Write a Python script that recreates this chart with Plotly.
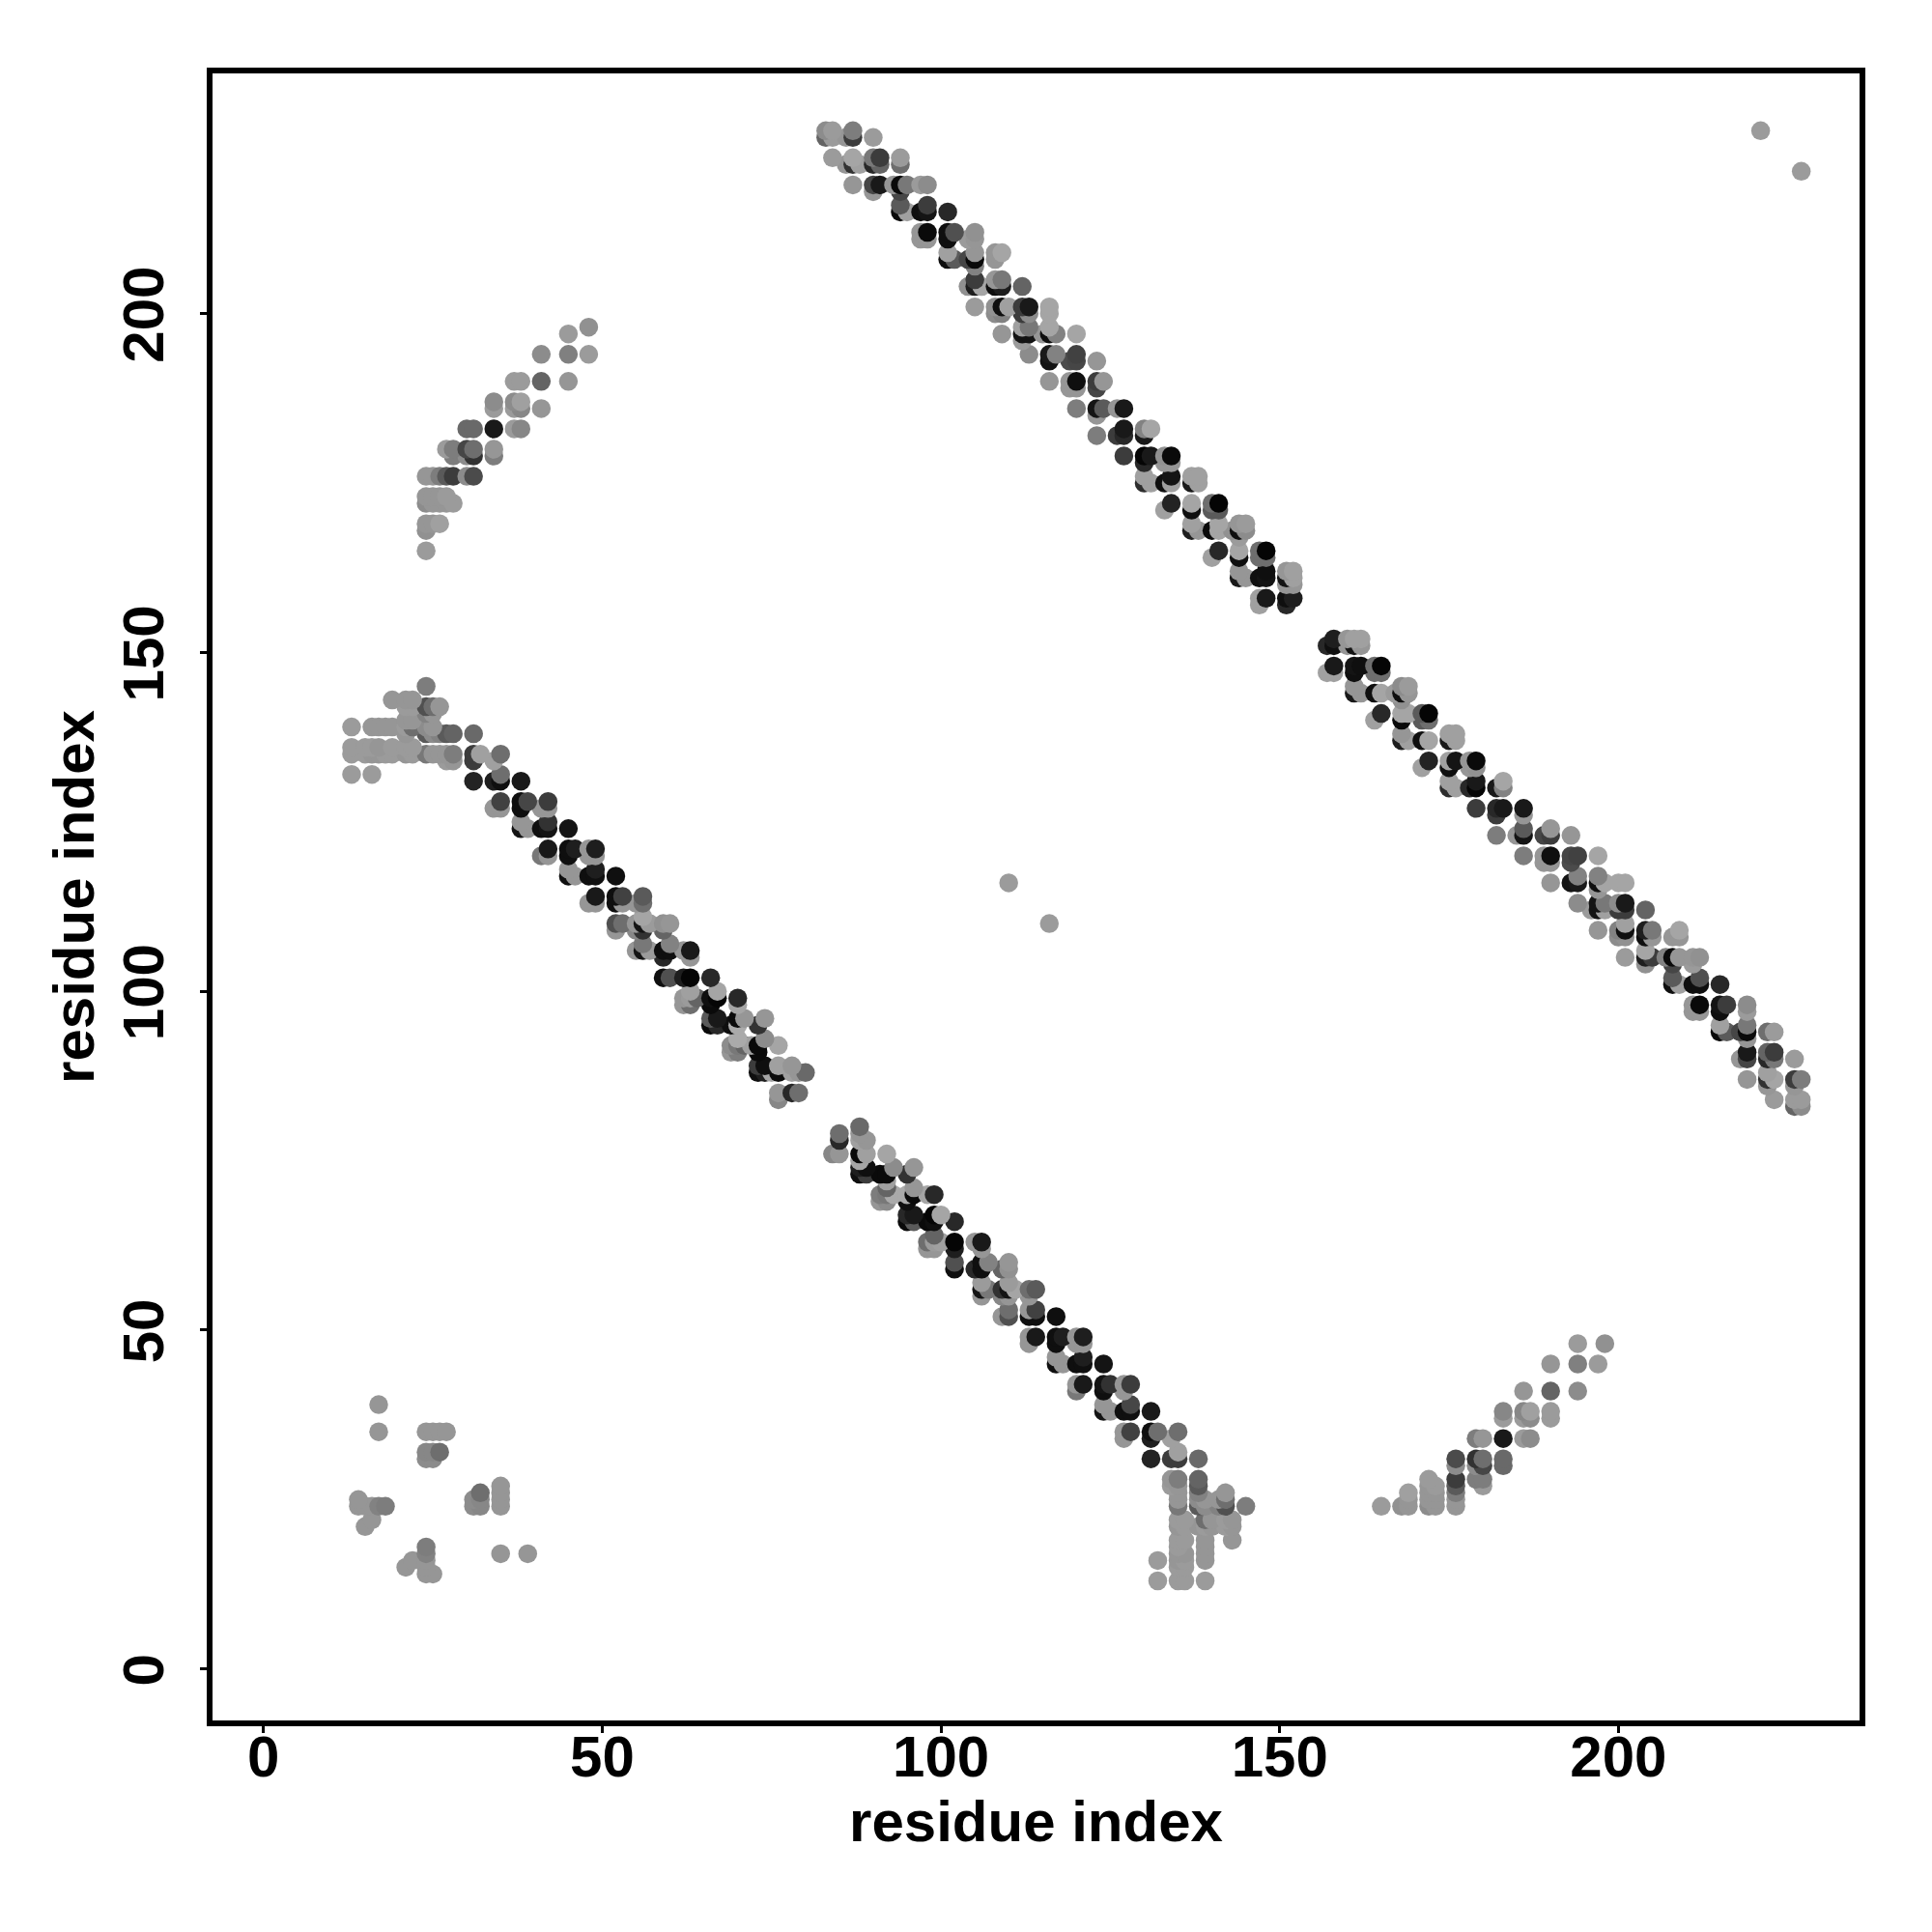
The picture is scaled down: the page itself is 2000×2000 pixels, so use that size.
import numpy as np
import plotly.graph_objects as go

# Each contact is (residue i, residue j, gray level); the map is symmetric, so
# every contact appears at both (i, j) and (j, i).
isolated = [(110,116,155),(221,227,155)]

small_cluster = [
 (17,39,150),(17,35,150),(24,35,150),(25,35,150),(26,35,150),(27,35,150),
 (24,32,135),(25,32,135),(26,32,110),(24,31,140),(25,31,140),
 (14,25,150),(14,24,150),(15,24,150),(16,24,150),(17,24,130),(18,24,125),(16,22,150),(15,21,150),
]

upper_arc = [
 (48,198,145),(45,197,155),(41,194,140),(45,194,128),(48,194,155),
 (37,190,155),(38,190,155),(41,190,100),(45,190,150),
 (34,187,140),(37,187,140),(38,187,160),(34,186,155),(37,186,155),(38,186,135),(41,186,150),
 (30,183,105),(31,183,105),(34,183,25),(37,183,155),(38,183,135),
 (27,180,155),(28,180,125),(30,180,70),(31,180,110),(34,180,150),
 (28,179,125),(30,179,140),(31,179,50),(34,179,125),
 (24,176,150),(25,176,150),(26,176,125),(27,176,90),(28,176,60),(30,176,140),(31,176,75),
 (24,173,150),(25,173,150),(26,173,150),(27,173,155),
 (24,172,140),(25,172,150),(26,172,150),(27,172,150),(28,172,155),
 (24,169,150),(25,169,150),(26,169,160),(24,168,145),(24,165,155),
]

left_group = [
 (24,145,125),(19,143,150),(21,143,150),(22,143,150),
 (21,142,155),(22,142,155),(24,142,80),(25,142,110),(26,142,150),
 (24,141,130),(25,141,150),(21,140,150),(22,140,150),
 (13,139,155),(16,139,150),(17,139,150),(18,139,150),(19,139,150),(21,139,155),(22,139,110),(24,139,140),(25,139,150),
 (21,138,150),(24,138,90),(25,138,140),(26,138,130),(27,138,90),(28,138,100),(31,138,105),
 (13,136,155),(15,136,155),(16,136,155),(17,136,150),(19,136,155),(21,136,155),(22,136,155),
 (13,135,155),(15,135,155),(16,135,150),(17,135,150),(18,135,155),(19,135,155),(21,135,150),(22,135,155),
 (24,135,120),(25,135,150),(26,135,150),(27,135,150),(28,135,125),
 (27,134,155),(28,134,150),
 (13,132,155),(16,132,155),
]

band_one = [
 (31,135,60),(32,135,160),(35,135,110),(31,134,60),(34,134,160),(35,132,110),
 (31,131,35),(34,131,30),(35,131,15),(38,131,25),
 (35,128,65),(38,128,15),(39,128,70),(42,128,60),
 (34,127,150),(35,127,150),(38,127,15),(41,127,150),(42,127,150),
 (38,125,150),(42,125,50),
 (38,124,20),(39,124,150),(41,124,15),(42,124,20),(45,124,20),
 (42,121,25),(45,121,15),(46,121,30),(48,121,150),(49,121,30),
 (41,120,120),(42,120,150),(45,120,15),(48,120,150),(49,120,150),
 (45,118,150),(49,118,30),
 (45,117,15),(46,117,150),(48,117,15),(49,117,15),(52,117,15),
 (49,114,25),(52,114,15),(53,114,65),(56,114,90),
 (48,113,150),(49,113,150),(52,113,15),(53,113,150),(55,113,150),(56,113,110),
 (56,111,165),
 (52,110,80),(53,110,110),(55,110,150),(56,110,20),(57,110,155),(59,110,145),(60,110,150),
 (52,109,150),(55,109,135),(56,109,50),(59,109,100),
 (56,107,120),(60,107,130),
 (55,106,150),(56,106,20),(57,106,155),(59,106,15),(60,106,15),(62,106,150),(63,106,25),
 (59,105,40),(63,105,150),
 (59,102,15),(60,102,80),(62,102,30),(63,102,5),(66,102,40),
 (63,100,160),(67,100,165),
 (62,99,150),(63,99,155),(64,99,100),(66,99,15),(67,99,5),(70,99,40),
 (62,98,150),(63,98,110),(66,98,10),(70,98,165),
 (66,96,90),(67,96,25),(70,96,10),(71,96,150),(74,96,150),
 (66,95,10),(67,95,40),(69,95,15),(70,95,170),(73,95,50),
 (70,93,170),(74,93,140),
 (69,92,140),(70,92,120),(71,92,100),(72,92,160),(73,92,10),(76,92,165),
 (69,91,150),(70,91,125),(73,91,10),
 (73,89,60),(74,89,15),(76,89,160),(78,89,150),
 (73,88,15),(74,88,30),(75,88,165),(76,88,10),(78,88,160),(79,88,150),(80,88,105),
 (76,85,150),(78,85,40),(79,85,110),(76,84,135),
]

band_two = [
 (83,227,140),(84,227,155),(87,227,125),
 (83,226,100),(84,226,155),(86,226,150),(87,226,60),(90,226,155),
 (84,223,155),(87,223,165),(90,223,120),(91,223,60),(94,223,155),
 (86,222,150),(87,222,50),(88,222,160),(90,222,40),(91,222,100),(94,222,110),
 (87,219,150),(90,219,70),(91,219,25),(93,219,150),(94,219,10),(95,219,120),(97,219,155),(98,219,140),
 (90,218,150),(94,218,70),
 (94,216,90),(98,216,60),
 (94,215,10),(95,215,160),(97,215,15),(98,215,20),(101,215,40),
 (97,212,150),(98,212,10),(101,212,15),(102,212,80),(105,212,145),
 (97,211,150),(98,211,150),(101,211,15),(104,211,155),(105,211,150),
 (101,209,160),(105,209,150),(108,209,150),(109,209,165),
 (101,208,15),(102,208,90),(104,208,70),(105,208,10),(108,208,150),
 (105,207,130),
 (105,205,60),(108,205,150),(109,205,120),
 (104,204,145),(105,204,30),(106,204,165),(108,204,15),(109,204,30),(112,204,100),
 (105,201,155),(108,201,145),(109,201,15),(110,201,160),(112,201,60),(113,201,25),(116,201,165),
 (108,200,140),(109,200,130),(112,200,60),(113,200,140),(116,200,165),
 (112,198,160),(113,198,120),(116,198,165),
 (109,197,150),(112,197,20),(113,197,20),(115,197,150),(116,197,15),(117,197,130),(120,197,165),
 (112,196,155),
 (113,194,140),(116,194,25),(117,194,130),(120,194,65),
 (116,193,20),(119,193,75),(120,193,70),(123,193,150),
 (116,190,150),(119,190,150),(120,190,15),(123,190,60),(124,190,150),
 (119,189,150),(120,189,150),(123,189,70),
 (120,186,125),(123,186,20),(124,186,90),(126,186,150),(127,186,25),
 (123,185,150),
 (127,183,25),(130,183,130),(131,183,165),
 (123,182,125),(126,182,60),(127,182,40),(130,182,25),
 (127,179,60),(130,179,5),(131,179,25),(133,179,145),(134,179,10),
 (130,178,40),(133,178,150),(134,178,150),
 (130,176,160),(134,176,20),(137,176,160),(138,176,160),
 (130,175,45),(131,175,160),(133,175,15),(134,175,160),(137,175,25),(138,175,160),
 (134,172,35),(137,172,165),(140,172,110),(141,172,5),
 (133,171,160),(137,171,15),(140,171,90),(141,171,90),
 (137,169,160),(141,169,165),(144,169,150),(145,169,155),
 (137,168,30),(138,168,150),(140,168,10),(141,168,165),(143,168,145),(144,168,15),(145,168,140),
 (144,167,155),
 (141,165,40),(144,165,165),(147,165,110),(148,165,5),
 (140,164,160),(144,164,15),(147,164,110),(148,164,110),
 (144,162,150),(148,162,15),(151,162,150),(152,162,160),
 (144,161,25),(145,161,150),(147,161,15),(148,161,20),(151,161,20),(152,161,160),
 (151,160,150),(152,160,150),
 (147,158,160),(148,158,25),(151,158,15),(152,158,30),
 (147,157,160),(151,157,40),
]

x_ticks = [0, 50, 100, 150, 200]
y_ticks = [0, 50, 100, 150, 200]
axis_title = "residue index"

contacts = isolated + small_cluster + upper_arc + left_group + band_one + band_two
i = np.array([c[0] for c in contacts])
j = np.array([c[1] for c in contacts])
g = np.array([c[2] for c in contacts])

xs = np.concatenate([i, j])
ys = np.concatenate([j, i])
gs = np.concatenate([g, g])
order = np.lexsort((xs, ys))

fig = go.Figure(go.Scatter(
    x=xs[order], y=ys[order], mode="markers",
    marker=dict(size=19.5, line=dict(width=0),
                color=[f"rgb({v},{v},{v})" for v in gs[order]]),
    hoverinfo="skip", showlegend=False,
))

font = dict(family="Liberation Sans", size=60, color="black", weight="bold")
common = dict(
    showgrid=False, zeroline=False, ticks="outside", ticklen=7, tickwidth=3, tickcolor="black",
    showline=True, linecolor="black", linewidth=6, mirror=True, tickfont=font,
)
fig.update_xaxes(tickvals=x_ticks, ticktext=[str(v) for v in x_ticks], range=[-7.53, 235.6],
                 ticklabelstandoff=-27, automargin=True,
                 title=dict(text=axis_title, font=font, standoff=14), **common)
fig.update_yaxes(tickvals=y_ticks, ticktext=[str(v) for v in y_ticks], range=[-7.6, 235.45],
                 tickangle=-90, ticklabelstandoff=14, ticklabelshift=10,
                 title=dict(text=axis_title, font=font, standoff=0), **common)
fig.update_layout(
    width=2000, height=2000, autosize=False, paper_bgcolor="white", plot_bgcolor="white",
    margin=dict(l=211.5, r=83, t=68, b=227, autoexpand=False),
)
fig.write_html("out.html")
